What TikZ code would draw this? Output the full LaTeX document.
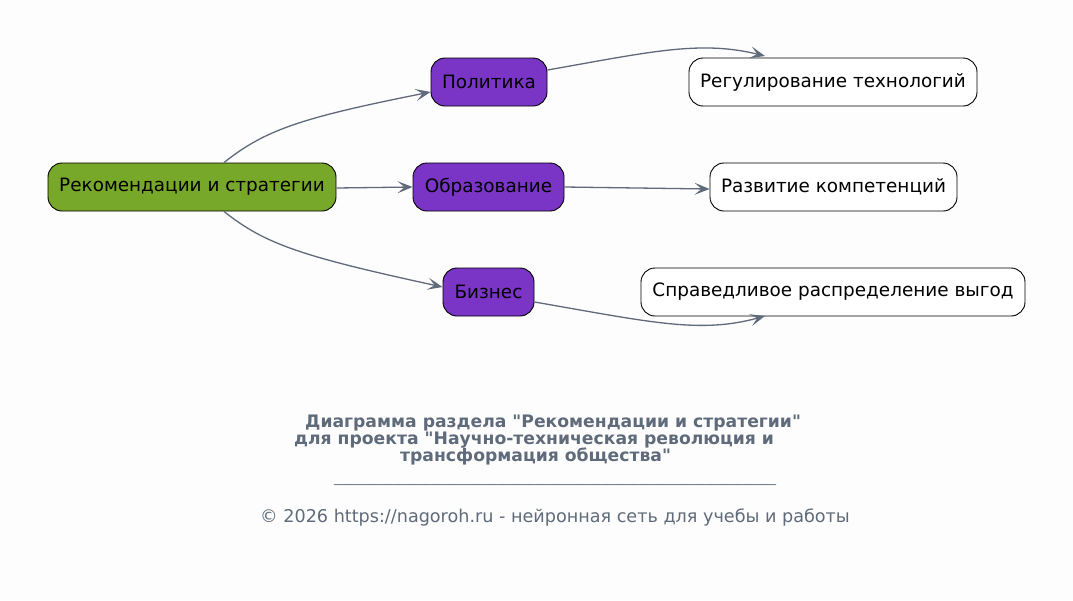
\documentclass[tikz,border=0pt]{standalone}
\usepackage{fontspec}
\setmainfont{DejaVu Sans}[Ligatures=TeXOff]
\usetikzlibrary{arrows.meta}
\definecolor{bg}{HTML}{FDFDFD}
\definecolor{edge}{HTML}{5F6B7A}
\definecolor{rootfill}{HTML}{78A829}
\definecolor{midfill}{HTML}{7A35C6}
\tikzset{
  box/.style={draw=black, line width=0.9pt, rounded corners=14pt, minimum height=48pt, inner sep=0pt, font=\fontsize{18.4}{22}\selectfont, text=black},
  rootbox/.style={box, fill=rootfill},
  midbox/.style={box, fill=midfill},
  leafbox/.style={box, fill=white},
  conn/.style={draw=edge, line width=1.3pt, -{Stealth[length=15pt,width=12pt,inset=7pt]}},
  titletext/.style={text=edge, font=\bfseries\fontsize{17.2}{20}\selectfont, inner sep=0pt, anchor=base west},
}
\begin{document}
\begin{tikzpicture}[x=1pt,y=-1pt]
\fill[bg] (0,0) rectangle (1073,600);
\useasboundingbox (0,0) rectangle (1073,600);
\node[rootbox, minimum width=288pt] (root) at (192,187) {Рекомендации и стратегии};
\node[midbox, minimum width=116pt] (pol) at (489,82) {Политика};
\node[midbox, minimum width=151pt] (edu) at (488.5,187) {Образование};
\node[midbox, minimum width=91pt] (bus) at (488.5,292) {Бизнес};
\node[leafbox, minimum width=288pt] (reg) at (833,82) {Регулирование технологий};
\node[leafbox, minimum width=247pt] (dev) at (833.5,187) {Развитие компетенций};
\node[leafbox, minimum width=384pt] (fair) at (833,292) {Справедливое распределение выгод};
\coordinate (regin) at (765,56);
\coordinate (fairin) at (765,316);
\draw[conn] ([xshift=32pt]root.north) .. controls (265,130) and (300,118) .. ([yshift=-10pt]pol.west);
\draw[conn] (root.east |- 0,188) -- (edu.west);
\draw[conn] ([xshift=32pt]root.south) .. controls (265,244) and (300,256) .. ([yshift=5pt]bus.west);
\draw[conn] ([yshift=12pt]pol.east) .. controls (650,52) and (700,40) .. (regin);
\draw[conn] (edu.east) -- ([yshift=-2pt]dev.west);
\draw[conn] ([yshift=-10pt]bus.east) .. controls (650,322) and (700,334) .. (fairin);
\node[titletext] (t1) at (305,427) {Диаграмма раздела "Рекомендации и стратегии"};
\node[titletext] (t2) at (294,444) {для проекта "Научно-техническая революция и};
\node[titletext] (t3) at (400,461) {трансформация общества"};
\node[text=edge, inner sep=0pt, font=\fontsize{13}{15}\selectfont] (sep) at (555,484) {\_\_\_\_\_\_\_\_\_\_\_\_\_\_\_\_\_\_\_\_\_\_\_\_\_\_\_\_\_\_\_\_\_\_\_\_\_\_\_\_\_\_\_\_\_\_\_\_\_\_\_\_\_\_\_\_\_\_\_\_\_\_\_\_\_\_\_\_};
\node[text=edge, inner sep=0pt, anchor=base, font=\fontsize{17.6}{20}\selectfont] (copy) at (555,522) {© 2026 https://nagoroh.ru - нейронная сеть для учебы и работы};
\end{tikzpicture}
\end{document}
